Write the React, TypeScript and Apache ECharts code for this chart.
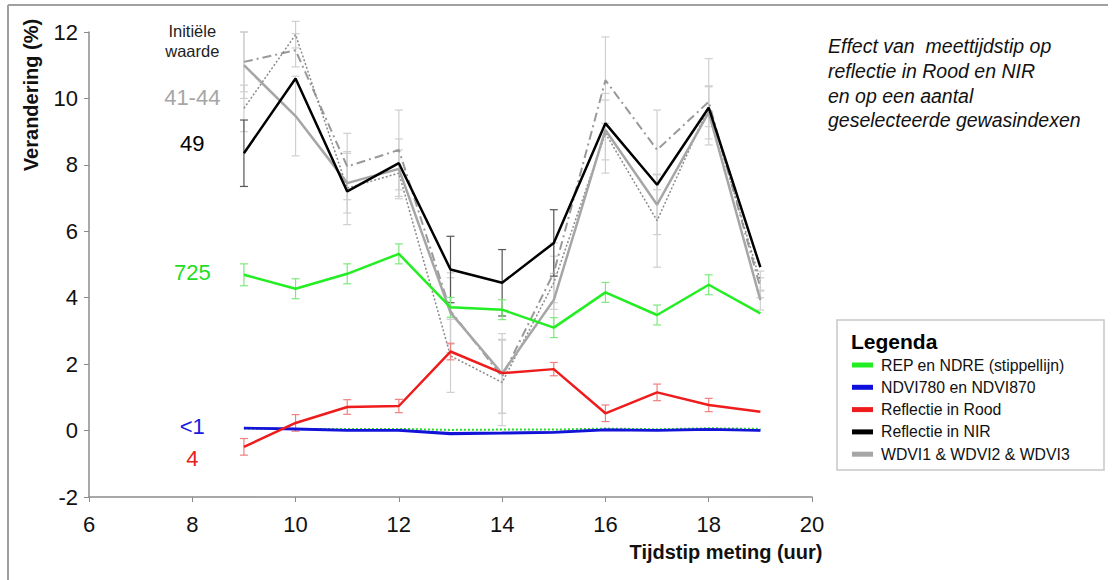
import React, { useEffect, useRef } from "react";
import * as echarts from "echarts";

// Meetmomenten (uur)
const hours = [9, 10, 11, 12, 13, 14, 15, 16, 17, 18, 19];

// Verandering (%) per index
const nir = [8.35, 10.6, 7.2, 8.05, 4.85, 4.45, 5.65, 9.25, 7.4, 9.72, 4.92];
const wdvi1 = [11.0, 9.47, 7.45, 7.88, 3.55, 1.72, 3.93, 9.05, 6.8, 9.58, 3.93];
const wdvi2 = [11.1, 11.45, 7.95, 8.45, 3.6, 1.62, 4.75, 10.55, 8.45, 9.9, 4.3];
const wdvi3 = [9.7, 11.92, 7.3, 7.75, 2.25, 1.45, 4.45, 8.95, 6.32, 9.75, 4.5];
const rep = [4.69, 4.27, 4.72, 5.32, 3.71, 3.64, 3.1, 4.16, 3.48, 4.39, 3.53];
const ndre = [0.06, 0.05, 0.05, 0.05, 0.02, 0.03, 0.03, 0.06, 0.04, 0.07, 0.05];
const rood = [-0.49, 0.23, 0.71, 0.74, 2.38, 1.73, 1.85, 0.52, 1.15, 0.77, 0.57];
const ndvi780 = [0.08, 0.04, 0.0, 0.0, -0.1, -0.08, -0.06, 0.02, 0.0, 0.03, 0.0];
const ndvi870 = [0.07, 0.06, 0.02, 0.02, -0.07, -0.06, -0.04, 0.03, 0.02, 0.04, 0.01];

// Spreiding (halve foutbalk, %)
const nirErr = [1.0, 0, 0, 0, 1.0, 1.0, 1.0, 0, 0, 0, 0];
const wdvi1Err = [1.0, 1.2, 0.9, 0.9, 1.2, 1.2, 0.8, 0.9, 0.9, 0.8, 0.3];
const wdvi2Err = [0.9, 0.5, 1.0, 1.2, 1.0, 1.1, 0.9, 1.3, 1.2, 1.3, 0.3];
const wdvi3Err = [0.7, 0.4, 1.1, 0.7, 1.1, 1.3, 0.8, 1.2, 1.4, 0.6, 0.3];
const repErr = [0.33, 0.3, 0.3, 0.3, 0.3, 0.3, 0.3, 0.3, 0.3, 0.3, 0];
const roodErr = [0.25, 0.25, 0.22, 0.2, 0.25, 0, 0.2, 0.25, 0.25, 0.2, 0];

// Y-as tick labels
const yTicks = [-2, 0, 2, 4, 6, 8, 10, 12];

// Initiële waarden, links in de grafiek bij x = 8
const initLabels = [
  { text: "Initiële\nwaarde", y: 11.72, color: "#222222", size: 16.5 },
  { text: "41-44", y: 10.02, color: "#a6a6a6", size: 22 },
  { text: "49", y: 8.64, color: "#000000", size: 22 },
  { text: "725", y: 4.77, color: "#22dd22", size: 22 },
  { text: "<1", y: 0.12, color: "#1a1adf", size: 22 },
  { text: "4", y: -0.85, color: "#e82020", size: 22 },
];

const legendItems = [
  { name: "REP en NDRE (stippellijn)", color: "#22ee22" },
  { name: "NDVI780 en NDVI870", color: "#1010dd" },
  { name: "Reflectie in Rood", color: "#ee1c1c" },
  { name: "Reflectie in NIR", color: "#000000" },
  { name: "WDVI1 & WDVI2 & WDVI3", color: "#a6a6a6" },
];

const FONT = "Liberation Sans, Arial, sans-serif";

function pairs(values: number[]) {
  return hours.map((h, i) => [h, values[i]]);
}

function errData(values: number[], err: number[]) {
  return hours
    .map((h, i) => [h, values[i] - err[i], values[i] + err[i]])
    .filter((d, i) => err[i] > 0);
}

function errorSeries(values: number[], err: number[], color: string, width: number) {
  return {
    type: "custom",
    silent: true,
    z: 1,
    encode: { x: 0, y: [1, 2] },
    data: errData(values, err),
    renderItem: (params: any, api: any) => {
      const x = api.value(0);
      const lo = api.coord([x, api.value(1)]);
      const hi = api.coord([x, api.value(2)]);
      const cw = 4;
      const style = { stroke: color, lineWidth: width };
      return {
        type: "group",
        children: [
          { type: "line", shape: { x1: lo[0], y1: lo[1], x2: hi[0], y2: hi[1] }, style },
          { type: "line", shape: { x1: lo[0] - cw, y1: lo[1], x2: lo[0] + cw, y2: lo[1] }, style },
          { type: "line", shape: { x1: hi[0] - cw, y1: hi[1], x2: hi[0] + cw, y2: hi[1] }, style },
        ],
      };
    },
  };
}

function lineSeries(name: string, values: number[], color: string, width: number, type: any = "solid", z = 3) {
  return {
    name,
    type: "line",
    data: pairs(values),
    symbol: "none",
    z,
    lineStyle: { color, width, type },
  };
}

export default function App() {
  const ref = useRef<HTMLDivElement>(null);

  useEffect(() => {
    if (!ref.current) return;
    const chart = echarts.init(ref.current, null, { renderer: "svg" });

    const legendX = 837;
    const legendY = 320;
    const legendGraphics: any[] = [
      {
        type: "rect",
        shape: { x: legendX, y: legendY, width: 267, height: 150 },
        style: { fill: "#fff", stroke: "#c8c8c8", lineWidth: 1.5 },
      },
      {
        type: "text",
        x: 851,
        y: 341,
        style: { text: "Legenda", font: `bold 21px ${FONT}`, fill: "#000", verticalAlign: "middle" },
      },
    ];
    legendItems.forEach((it, i) => {
      const cy = 365 + i * 22.3;
      legendGraphics.push({
        type: "rect",
        shape: { x: 852, y: cy - 2.5, width: 21, height: 5 },
        style: { fill: it.color },
      });
      legendGraphics.push({
        type: "text",
        x: 881,
        y: cy,
        style: { text: it.name, font: `15.8px ${FONT}`, fill: "#111", verticalAlign: "middle" },
      });
    });

    chart.setOption({
      animation: false,
      backgroundColor: "#fff",
      grid: { left: 89, right: 300, top: 32, bottom: 83, containLabel: false },
      xAxis: {
        type: "value",
        min: 6,
        max: 20,
        interval: 2,
        axisLine: { show: true, onZero: false, lineStyle: { color: "#8c8c8c", width: 1.5 } },
        axisTick: { show: true, length: 5, lineStyle: { color: "#8c8c8c" } },
        axisLabel: { fontSize: 22, color: "#111", fontFamily: FONT, margin: 16 },
        splitLine: { show: false },
      },
      yAxis: {
        type: "value",
        min: yTicks[0],
        max: yTicks[yTicks.length - 1],
        interval: 2,
        axisLine: { show: true, onZero: false, lineStyle: { color: "#8c8c8c", width: 1.5 } },
        axisTick: { show: true, length: 5, lineStyle: { color: "#8c8c8c" } },
        axisLabel: { fontSize: 22, color: "#111", fontFamily: FONT, margin: 11 },
        splitLine: { show: false },
      },
      graphic: [
        {
          type: "line",
          shape: { x1: 8, y1: 5, x2: 1108, y2: 5 },
          style: { stroke: "#a0a0a0", lineWidth: 2 },
        },
        {
          type: "line",
          shape: { x1: 8, y1: 5, x2: 8, y2: 580 },
          style: { stroke: "#a0a0a0", lineWidth: 2 },
        },
        {
          type: "text",
          x: 31,
          y: 95,
          rotation: Math.PI / 2,
          style: {
            text: "Verandering (%)",
            font: `bold 20px ${FONT}`,
            fill: "#111",
            align: "center",
            verticalAlign: "middle",
          },
        },
        {
          type: "text",
          x: 726,
          y: 552,
          style: {
            text: "Tijdstip meting (uur)",
            font: `bold 20px ${FONT}`,
            fill: "#111",
            align: "center",
            verticalAlign: "middle",
          },
        },
        {
          type: "text",
          x: 828,
          y: 34,
          style: {
            text: "Effect van  meettijdstip op\nreflectie in Rood en NIR\nen op een aantal\ngeselecteerde gewasindexen",
            font: `italic 19.5px ${FONT}`,
            lineHeight: 24.7,
            fill: "#111",
          },
        },
        ...legendGraphics,
      ],
      series: [
        errorSeries(wdvi1, wdvi1Err, "#cfcfcf", 1.2),
        errorSeries(wdvi2, wdvi2Err, "#cfcfcf", 1.2),
        errorSeries(wdvi3, wdvi3Err, "#cfcfcf", 1.2),
        errorSeries(nir, nirErr, "#555555", 1.2),
        errorSeries(rep, repErr, "#7ee87e", 1.2),
        errorSeries(rood, roodErr, "#f08080", 1.2),
        lineSeries("NDRE", ndre, "#22dd22", 2, [2, 2], 2),
        lineSeries("NDVI780", ndvi780, "#1010dd", 2.5),
        lineSeries("NDVI870", ndvi870, "#1414d8", 2),
        lineSeries("WDVI2", wdvi2, "#999999", 2, [9, 4, 2, 4]),
        lineSeries("WDVI3", wdvi3, "#8a8a8a", 1.5, [2, 2]),
        lineSeries("WDVI1", wdvi1, "#a6a6a6", 2.5),
        lineSeries("REP", rep, "#22ee22", 2.5),
        lineSeries("Reflectie in Rood", rood, "#ee1c1c", 2.5),
        lineSeries("Reflectie in NIR", nir, "#000000", 2.5, "solid", 4),
        {
          type: "scatter",
          symbolSize: 0,
          silent: true,
          z: 5,
          itemStyle: { opacity: 1 },
          data: initLabels.map((l) => ({
            value: [8, l.y],
            label: {
              show: true,
              position: "inside",
              formatter: l.text,
              color: l.color,
              opacity: 1,
              textBorderWidth: 0,
              textBorderColor: "transparent",
              fontSize: l.size,
              lineHeight: l.size < 20 ? 20 : l.size * 1.2,
              fontFamily: FONT,
              align: "center",
              verticalAlign: "middle",
            },
          })),
        },
      ],
    });

    return () => chart.dispose();
  }, []);

  return (
    <div
      ref={ref}
      style={{ position: "fixed", left: 0, top: 0, width: 1112, height: 580, background: "#fff" }}
    />
  );
}
